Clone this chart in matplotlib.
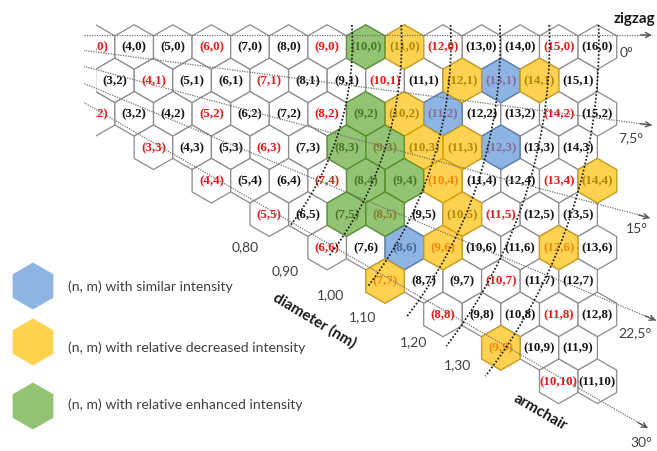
import numpy as np
import matplotlib
matplotlib.use("Agg")
import matplotlib.pyplot as plt
from matplotlib.patches import RegularPolygon
from matplotlib.transforms import Bbox, TransformedBbox

# ---- data ---------------------------------------------------------------------------
# one row per chiral index m, with the first and last n drawn in that row
rows_m = [0, 1, 2, 3, 4, 5, 6, 7, 8, 9, 10]
rows_n_first = [3, 3, 2, 3, 4, 5, 6, 7, 8, 9, 10]
rows_n_last = [16, 15, 15, 14, 14, 13, 13, 12, 12, 11, 11]

# the original writes this cell differently
label_override = {(3, 1): "(3,2)"}

# (n,m) written in red
red_nm = [(3, 0), (6, 0), (9, 0), (12, 0), (15, 0),
          (4, 1), (7, 1), (10, 1), (13, 1),
          (2, 2), (5, 2), (8, 2), (11, 2), (14, 2),
          (3, 3), (6, 3), (9, 3), (12, 3),
          (4, 4), (7, 4), (10, 4), (13, 4),
          (5, 5), (8, 5), (11, 5),
          (6, 6), (9, 6), (12, 6),
          (7, 7), (10, 7), (8, 8), (11, 8), (9, 9), (10, 10)]

similar_nm = [(13, 1), (11, 2), (12, 3), (8, 6)]
decreased_nm = [(11, 0), (12, 1), (14, 1), (10, 2), (10, 3), (11, 3), (10, 4),
                (14, 4), (10, 5), (9, 6), (12, 6), (7, 7), (9, 9)]
enhanced_nm = [(10, 0), (9, 2), (8, 3), (9, 3), (8, 4), (9, 4), (7, 5), (8, 5)]

angles = [0, 7.5, 15, 22.5, 30]
angle_labels = ["0°", "7,5°", "15°", "22,5°", "30°"]
diameters = [0.80, 0.90, 1.00, 1.10, 1.20, 1.30]
diameter_labels = ["0,80", "0,90", "1,00", "1,10", "1,20", "1,30"]
legend_labels = ["(n, m) with similar intensity",
                 "(n, m) with relative decreased intensity",
                 "(n, m) with relative enhanced intensity"]

# ---- layout (pixels of the 657x451 picture) -----------------------------------------
W, H = 657, 451
S = 38.6                 # pixels per lattice unit
PX0, PY0 = -20.2, 47.0   # pixel of lattice point (0,0)
LEFT = 84                # where the dotted guide lines begin
HEX_LEFT = 95.5          # hexagons are cut here

blue, yellow, green = "#8EB4E3", "#FFD250", "#93C473"
alpha = 0.68


def under(c):
    # colour that gives c when laid with alpha over white
    rgb = np.array(matplotlib.colors.to_rgb(c))
    return tuple(np.clip((rgb - (1 - alpha)) / alpha, 0, 1))


fig = plt.figure(figsize=(W / 100, H / 100), dpi=100)
axf = fig.add_axes([0, 0, 1, 1])
axf.set_xlim(0, W)
axf.set_ylim(H, 0)
axf.axis("off")

ax = fig.add_axes([LEFT / W, 0, (W - LEFT) / W, 1])
ax.set_xlim((LEFT - PX0) / S, (W - PX0) / S)
ax.set_ylim((H - PY0) / S, -PY0 / S)
ax.axis("off")

hexclip = TransformedBbox(Bbox([[(HEX_LEFT - PX0) / S, -5], [40, 40]]), ax.transData)
r = 1 / np.sqrt(3)
serif = "Liberation Serif"
sans = "Lato"


def centre(n, m):
    return n + m / 2, m * np.sqrt(3) / 2


# white cells and their labels
for m, n0, n1 in zip(rows_m, rows_n_first, rows_n_last):
    for n in range(n0, n1 + 1):
        x, y = centre(n, m)
        h = RegularPolygon((x, y), 6, radius=r, facecolor="white",
                           edgecolor="#8c8c8c", lw=0.9, zorder=1)
        ax.add_patch(h)
        h.set_clip_box(hexclip)
        txt = label_override.get((n, m), "(%d,%d)" % (n, m))
        col = "#e31c1c" if (n, m) in red_nm else "#151515"
        t = ax.text(x, y + 0.02, txt, ha="center", va="center", fontsize=9.4,
                    fontweight="bold", family=serif, color=col, zorder=2, clip_on=True)
        t.set_clip_box(hexclip)

# coloured cells laid over, translucent like the original
for cells, c in [(similar_nm, blue), (decreased_nm, yellow), (enhanced_nm, green)]:
    for n, m in cells:
        x, y = centre(n, m)
        base = under(c)
        edge = tuple(np.array(base) * 0.85)
        ax.add_patch(RegularPolygon((x, y), 6, radius=r, facecolor=base,
                                    edgecolor=edge, lw=0.9, alpha=alpha, zorder=3))

# chiral angle guide lines
ox, oy = (-33 - PX0) / S, (35 - PY0) / S
end_px = [652, 652, 650, 656, 648]
for a, ex in zip(angles, end_px):
    th = np.radians(a)
    x1 = (ex - PX0) / S
    y1 = oy + np.tan(th) * (x1 - ox)
    ax.plot([ox, x1], [oy, y1], color="#707070", lw=0.9, ls=(0, (1, 1)), zorder=5)
    ax.annotate("", xy=(x1, y1), xytext=(x1 - 0.3 * np.cos(th), y1 - 0.3 * np.sin(th)),
                arrowprops=dict(arrowstyle="->", color="#555555", lw=1.0,
                                shrinkA=0, shrinkB=0, mutation_scale=9), zorder=6)

# constant diameter lines
cx, cy = (50 - PX0) / S, (42 - PY0) / S
for d in diameters:
    R = d * np.pi / 0.246 - 92 / S
    t0 = np.arcsin(((25 - PY0) / S - cy) / R)
    t = np.linspace(t0, np.radians(37.5), 120)
    ax.plot(cx + R * np.cos(t), cy + R * np.sin(t), color="#1a1a1a", lw=1.25,
            ls=(0, (1, 1.1)), zorder=5)

# free text
grey = "#404040"
for s, (x, y) in zip(angle_labels, [(627, 53), (631, 138), (637, 229), (635, 333), (641, 443)]):
    axf.text(x, y, s, ha="center", va="center", fontsize=10, family=sans, color=grey)
for s, (x, y) in zip(diameter_labels, [(245, 247), (285, 271), (330, 295), (363, 317),
                                       (414, 342), (457, 365)]):
    axf.text(x, y, s, ha="center", va="center", fontsize=10, family=sans, color=grey)

axf.text(634, 19, "zigzag", ha="center", va="center", fontsize=11, fontweight="bold",
         family=sans, color="#1a1a1a")
axf.text(540, 412, "armchair", ha="center", va="center", fontsize=11, fontweight="bold",
         family=sans, color="#1a1a1a", rotation=-30, rotation_mode="anchor")
axf.text(315, 320, "diameter (nm)", ha="center", va="center", fontsize=11, fontweight="bold",
         family=sans, color="#1a1a1a", rotation=-31, rotation_mode="anchor")

# legend
for s, c, yc, yt in zip(legend_labels, [blue, yellow, green], [286, 342, 406], [287, 348, 405]):
    axf.add_patch(RegularPolygon((33, yc), 6, radius=23.1, facecolor=c, edgecolor=c, lw=0.5))
    axf.text(68, yt, s, ha="left", va="center", fontsize=10.1, family=sans, color=grey)

fig.savefig("out.png", dpi=100)
